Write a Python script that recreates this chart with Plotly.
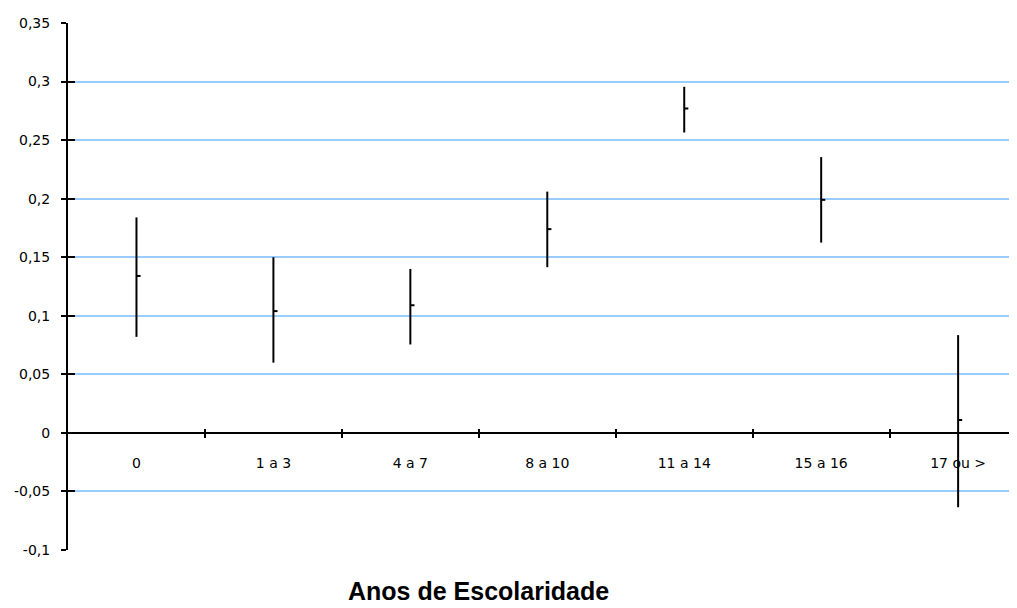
import plotly.graph_objects as go

categories = ["0", "1 a 3", "4 a 7", "8 a 10", "11 a 14", "15 a 16", "17 ou >"]
high = [0.184, 0.150, 0.140, 0.206, 0.2955, 0.2355, 0.0835]
low = [0.082, 0.060, 0.0755, 0.1415, 0.2565, 0.1625, -0.0635]
close = [0.134, 0.104, 0.109, 0.174, 0.277, 0.199, 0.011]
y_ticks = [-0.1, -0.05, 0, 0.05, 0.1, 0.15, 0.2, 0.25, 0.3, 0.35]
y_ticktext = ["-0,1", "-0,05", "0", "0,05", "0,1", "0,15", "0,2", "0,25", "0,3", "0,35"]

xs = list(range(len(categories)))
boundaries = [i + 0.5 for i in range(len(categories) - 1)]
plus = [h - c for h, c in zip(high, close)]
minus = [c - l for c, l in zip(close, low)]

# page body has an 8px margin, so the figure is shifted by 8px
OFF = 8
W, H = 1017 - OFF, 608 - OFF
ML, MT, MB, MR = 68 - OFF, 23 - OFF, 58, 0
YR = [-0.1, 0.35]
XR = [-0.5, 6.43]
xpos = (0 - YR[0]) / (YR[1] - YR[0])

font_tick = dict(family="DejaVu Sans", size=14, color="black")

fig = go.Figure()
fig.add_trace(go.Scatter(
    x=xs, y=close, mode="markers",
    marker=dict(size=0.1, color="black"),
    error_y=dict(type="data", symmetric=False, array=plus, arrayminus=minus,
                 thickness=2, width=0, color="black"),
    error_x=dict(type="data", symmetric=False, array=[0.03] * len(xs),
                 arrayminus=[0] * len(xs), thickness=2, width=0, color="black"),
    showlegend=False, hoverinfo="skip",
))
# empty trace to activate overlay axes used for crossing tick marks
fig.add_trace(go.Scatter(x=[], y=[], xaxis="x2", yaxis="y2", showlegend=False))

fig.update_layout(
    width=W, height=H,
    margin=dict(l=ML, r=MR, t=MT, b=MB),
    paper_bgcolor="white", plot_bgcolor="white",
    showlegend=False,
    xaxis=dict(
        range=XR, anchor="free", position=xpos,
        tickmode="array", tickvals=xs, ticktext=categories,
        ticks="", tickfont=font_tick, ticklabelstandoff=17,
        showline=True, linecolor="black", linewidth=2,
        showgrid=False, zeroline=False,
        minor=dict(tickmode="array", tickvals=boundaries, ticks="outside",
                   ticklen=4, tickwidth=2, tickcolor="black", showgrid=False),
    ),
    yaxis=dict(
        range=YR, tickmode="array", tickvals=y_ticks, ticktext=y_ticktext,
        ticks="outside", ticklen=5, tickwidth=2, tickcolor="black",
        tickfont=font_tick, ticklabelstandoff=8,
        showline=True, linecolor="black", linewidth=2,
        showgrid=True, gridcolor="#99ccff", gridwidth=2,
        zeroline=False,
    ),
    xaxis2=dict(
        range=XR, overlaying="x", anchor="free", position=xpos,
        tickmode="array", tickvals=boundaries, showticklabels=False,
        ticks="inside", ticklen=4, tickwidth=2, tickcolor="black",
        showline=False, showgrid=False, zeroline=False,
    ),
    yaxis2=dict(
        range=YR, overlaying="y", anchor="x2",
        tickmode="array", tickvals=y_ticks, showticklabels=False,
        ticks="inside", ticklen=7, tickwidth=2, tickcolor="black",
        showline=False, showgrid=False, zeroline=False,
    ),
    annotations=[dict(
        text="<b>Anos de Escolaridade</b>",
        xref="paper", yref="paper",
        x=(478 - OFF - ML) / (W - ML - MR), y=-(591 - 550) / (H - MT - MB),
        xanchor="center", yanchor="middle", showarrow=False,
        font=dict(family="Liberation Sans", size=25, color="black"),
    )],
)

fig.write_html("out.html")
